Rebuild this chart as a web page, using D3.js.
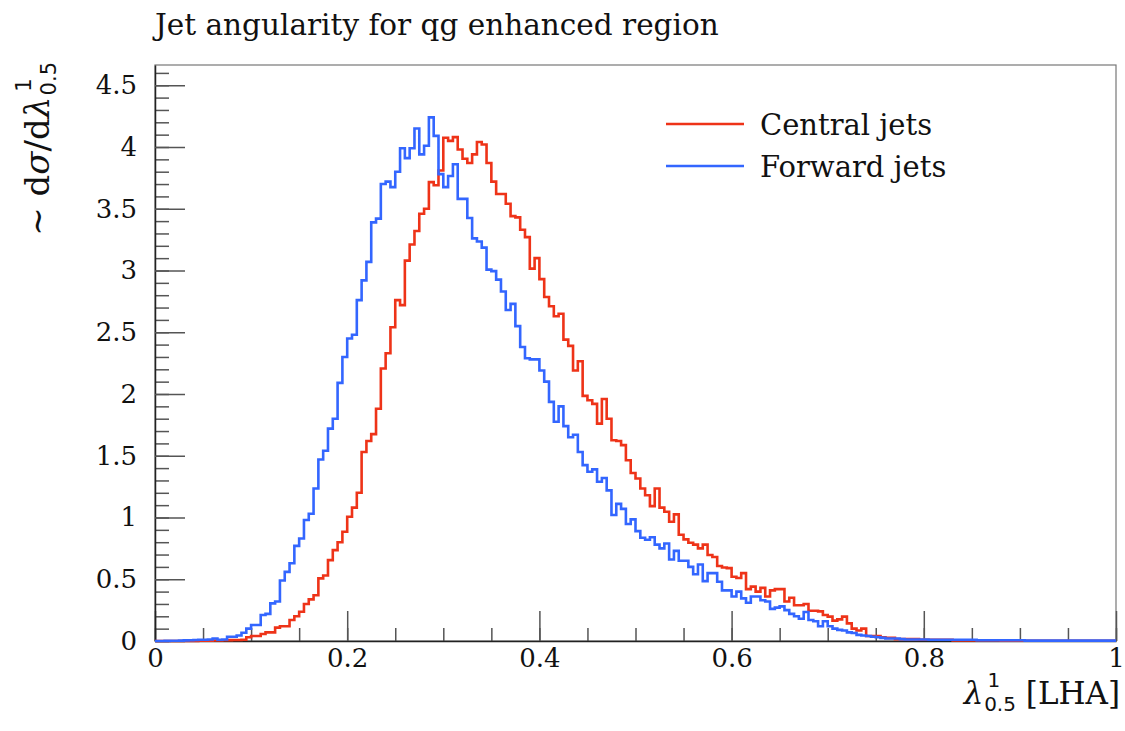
<!DOCTYPE html>
<html><head><meta charset="utf-8">
<script src="https://cdn.jsdelivr.net/npm/d3@7"></script>
<style>body{margin:0;background:#fff}svg{display:block}</style>
</head><body><svg id="c" width="1125" height="731"></svg>
<script>
const chartTitle = "Jet angularity for qg enhanced region";
const seriesNames = ["Central jets", "Forward jets"];
const binLow = 0, binWidth = 0.005;
const central = [
0,0,0,0,0,0,0,0,0.001,0.002,0.002,0.003,0.004,0.005,0.006,0.007,
0.008,0.008,0.01,0.03,0.04,0.04,0.057,0.07,0.07,0.108,0.12,0.12,0.17,0.2,0.237,0.3,
0.337,0.37,0.507,0.53,0.655,0.736,0.8,0.885,1.006,1.08,1.2,1.53,1.62,1.675,1.88,2.206,
2.33,2.54,2.76,2.72,3.08,3.21,3.32,3.46,3.5,3.716,3.69,3.81,4.075,4.05,4.08,3.98,
3.905,3.87,3.94,4.04,4.02,3.87,3.72,3.62,3.62,3.54,3.44,3.43,3.33,3.27,3.015,3.1,
2.93,2.786,2.71,2.63,2.65,2.44,2.39,2.19,2.265,1.985,1.95,1.92,1.76,1.96,1.8,1.626,
1.62,1.586,1.464,1.36,1.316,1.235,1.18,1.092,1.235,1.08,1.046,0.965,1.025,0.86,0.823,0.795,
0.78,0.75,0.78,0.696,0.68,0.607,0.595,0.59,0.52,0.51,0.55,0.42,0.44,0.4,0.43,0.36,
0.41,0.42,0.42,0.32,0.35,0.29,0.29,0.3,0.245,0.245,0.24,0.21,0.197,0.165,0.175,0.197,
0.143,0.1,0.085,0.1,0.04,0.04,0.04,0.03,0.025,0.025,0.015,0.015,0.015,0.015,0.015,0.01,
0.01,0.01,0.01,0.01,0.01,0.01,0.005,0.005,0.005,0.005,0.005,0.005,0.005,0.005,0.005,0.005,
0.002,0.002,0.002,0.002,0.002,0.002,0.002,0.002,0.002,0.002,0.002,0.002,0.002,0.002,0.002,0.002,
0.002,0.002,0.002,0.002,0.002,0.002,0.002,0.002
];
const forward = [
0,0,0.001,0.002,0.002,0.003,0.005,0.006,0.008,0.01,0.01,0.012,0.02,0.01,0.012,0.035,
0.035,0.045,0.067,0.1,0.13,0.13,0.21,0.22,0.305,0.32,0.49,0.56,0.63,0.77,0.83,0.98,
1.03,1.235,1.47,1.54,1.72,1.8,2.09,2.3,2.45,2.48,2.76,2.92,3.07,3.39,3.42,3.7,
3.72,3.675,3.8,3.99,3.91,3.99,4.15,3.94,4.01,4.24,4.09,3.78,3.675,3.765,3.86,3.58,
3.58,3.425,3.26,3.235,3.185,3.007,2.995,2.926,2.83,2.68,2.73,2.55,2.38,2.29,2.28,2.28,
2.19,2.1,1.936,1.775,1.9,1.74,1.65,1.67,1.53,1.424,1.37,1.39,1.29,1.32,1.22,1.02,
1.11,1.07,0.947,0.985,0.89,0.836,0.82,0.84,0.78,0.75,0.79,0.66,0.73,0.65,0.65,0.6,
0.54,0.62,0.485,0.55,0.55,0.48,0.41,0.41,0.36,0.4,0.345,0.31,0.36,0.36,0.33,0.32,
0.26,0.27,0.28,0.25,0.22,0.2,0.18,0.235,0.17,0.16,0.12,0.16,0.12,0.1,0.09,0.085,
0.07,0.065,0.05,0.045,0.04,0.035,0.03,0.025,0.02,0.02,0.02,0.015,0.012,0.012,0.012,0.012,
0.012,0.01,0.01,0.01,0.01,0.01,0.01,0.01,0.01,0.01,0.01,0.006,0.006,0.006,0.006,0.006,
0.006,0.006,0.006,0.006,0.006,0.003,0.003,0.003,0.003,0.003,0.003,0.003,0.003,0.003,0.003,0.003,
0.003,0.003,0.003,0.003,0.003,0.003,0.003,0.003
];
const xTickValues = [0, 0.2, 0.4, 0.6, 0.8, 1];
const xTickLabels = ["0", "0.2", "0.4", "0.6", "0.8", "1"];
const yTickValues = [0, 0.5, 1, 1.5, 2, 2.5, 3, 3.5, 4, 4.5];
const yTickLabels = ["0", "0.5", "1", "1.5", "2", "2.5", "3", "3.5", "4", "4.5"];
const xMinorStep = 0.05, yMinorStep = 0.1;
const xDomain = [0, 1], yDomain = [0, 4.664];

const colors = ["#ee3318", "#3366ff"];
const SERIF = "'DejaVu Serif', serif";
const SANS = "'DejaVu Sans', sans-serif";

const svg = d3.select("#c");
const L = 155, R = 1116, T = 65, B = 641;
const x = d3.scaleLinear().domain(xDomain).range([L, R]);
const y = d3.scaleLinear().domain(yDomain).range([B, T]);

// frame
svg.append("rect").attr("x", L).attr("y", T).attr("width", R - L).attr("height", B - T)
  .attr("fill", "none").attr("stroke", "#777").attr("stroke-width", 1.2);

// x axis
const xMinor = d3.range(0, 1 + 1e-9, xMinorStep).map(v => +v.toFixed(3));
const gx = svg.append("g").attr("transform", `translate(0,${B})`);
gx.call(d3.axisBottom(x).tickValues(xMinor).tickSize(-13).tickSizeOuter(0).tickFormat(""));
gx.selectAll(".tick line").attr("stroke", "#555").attr("stroke-width", 1.5);
gx.select(".domain").remove();
const gx2 = svg.append("g").attr("transform", `translate(0,${B})`);
gx2.call(d3.axisBottom(x).tickValues(xTickValues).tickSize(-30).tickSizeOuter(0).tickPadding(8)
  .tickFormat((d, i) => xTickLabels[i]));
gx2.selectAll(".tick line").attr("stroke", "#555").attr("stroke-width", 1.5);
gx2.select(".domain").attr("stroke", "#222").attr("stroke-width", 1.5);
gx2.selectAll("text").attr("fill", "#111").style("font-family", SERIF).style("font-size", "26px");

// y axis
const yMinor = d3.range(0, 4.6 + 1e-9, yMinorStep).map(v => +v.toFixed(3));
const gy = svg.append("g").attr("transform", `translate(${L},0)`);
gy.call(d3.axisLeft(y).tickValues(yMinor).tickSize(-14).tickSizeOuter(0).tickFormat(""));
gy.selectAll(".tick line").attr("stroke", "#555").attr("stroke-width", 1.5);
gy.select(".domain").remove();
const gy2 = svg.append("g").attr("transform", `translate(${L},0)`);
gy2.call(d3.axisLeft(y).tickValues(yTickValues).tickSize(-30).tickSizeOuter(0).tickPadding(18)
  .tickFormat((d, i) => yTickLabels[i]));
gy2.selectAll(".tick line").attr("stroke", "#555").attr("stroke-width", 1.5);
gy2.select(".domain").attr("stroke", "#222").attr("stroke-width", 1.5);
gy2.selectAll("text").attr("fill", "#111").style("font-family", SERIF).style("font-size", "26px");

// histograms
function stepPoints(vals) {
  const pts = vals.map((v, i) => [binLow + i * binWidth, v]);
  pts.push([binLow + vals.length * binWidth, vals[vals.length - 1]]);
  return pts;
}
const line = d3.line().x(d => x(d[0])).y(d => y(d[1])).curve(d3.curveStepAfter);
svg.append("clipPath").attr("id", "pc").append("rect")
  .attr("x", L).attr("y", T).attr("width", R - L).attr("height", B - T + 2);
[central, forward].forEach((vals, k) => {
  svg.append("path").datum(stepPoints(vals)).attr("d", line)
    .attr("fill", "none").attr("stroke", colors[k]).attr("stroke-width", 2.6)
    .attr("clip-path", "url(#pc)");
});

// title
svg.append("text").attr("x", 155).attr("y", 35).text(chartTitle)
  .style("font-family", SERIF).style("font-size", "29.5px").attr("fill", "#111");

// legend
seriesNames.forEach((name, k) => {
  const ly = 124 + k * 42;
  svg.append("line").attr("x1", 666).attr("x2", 744).attr("y1", ly).attr("y2", ly)
    .attr("stroke", colors[k]).attr("stroke-width", 2.6);
  svg.append("text").attr("x", 760).attr("y", ly + 11).text(name)
    .style("font-family", SERIF).style("font-size", "29px").attr("fill", "#111");
});

// x label
const xl = svg.append("text").attr("x", 1120).attr("y", 704).attr("text-anchor", "end")
  .style("font-family", SERIF).style("font-size", "31px").attr("fill", "#111");
xl.append("tspan").style("font-style", "italic").text("λ");
xl.append("tspan").attr("dx", 4).attr("dy", -17).style("font-family", SANS).style("font-size", "20px").text("1");
xl.append("tspan").attr("dx", -16).attr("dy", 24).style("font-family", SANS).style("font-size", "20px").text("0.5");
xl.append("tspan").attr("dy", -7).text(" [LHA]");

// y label
const yl = svg.append("text").attr("transform", "translate(49,62) rotate(-90)").attr("text-anchor", "end")
  .style("font-family", SERIF).style("font-size", "34px").attr("fill", "#111");
yl.append("tspan").text("∼ d");
yl.append("tspan").style("font-style", "italic").text("σ");
yl.append("tspan").text("/d");
yl.append("tspan").style("font-style", "italic").text("λ");
yl.append("tspan").attr("dx", 5).attr("dy", -18).style("font-family", SANS).style("font-size", "21px").text("1");
yl.append("tspan").attr("dx", -17).attr("dy", 25).style("font-family", SANS).style("font-size", "21px").text("0.5");
</script></body></html>
